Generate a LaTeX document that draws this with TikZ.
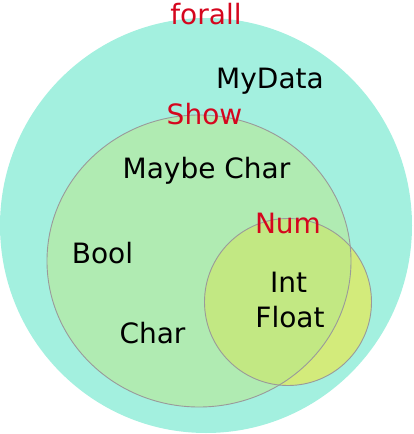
\documentclass[tikz,border=0pt]{standalone}
\usepackage{fontspec}
\setmainfont{DejaVu Sans}
\usepackage{tikz}

\definecolor{forallcol}{HTML}{A3F0DF}
\definecolor{showcol}{HTML}{B0EBB2}
\definecolor{numcol}{HTML}{D3EB7B}
\definecolor{bothcol}{HTML}{C2E883}
\definecolor{classred}{HTML}{D5061E}
\definecolor{rimgray}{HTML}{9A9A9A}

\tikzset{
  typelabel/.style={anchor=base, inner sep=0pt, font=\fontsize{28}{30}\selectfont},
  classlabel/.style={typelabel, text=classred},
  rim/.style={draw=rimgray, line width=0.9pt}
}

\begin{document}
\begin{tikzpicture}[x=1pt,y=-1pt]
\useasboundingbox (0,0) rectangle (413,434);

% forall region
\fill[forallcol] (206,225.5) ellipse [x radius=206, y radius=207.5];

% Show region
\fill[showcol] (199,261) ellipse [x radius=152, y radius=146];

% Num region, lighter where it leaves Show
\fill[numcol] (288,302) circle [radius=83.5];
\begin{scope}
  \clip (199,261) ellipse [x radius=152, y radius=146];
  \fill[bothcol] (288,302) circle [radius=83.5];
\end{scope}

% outlines
\draw[rim] (199,261) ellipse [x radius=152, y radius=146];
\draw[rim] (288,302) circle [radius=83.5];

% class names
\node[classlabel] (forall) at (206,24) {forall};
\node[classlabel] (show) at (204.5,124) {Show};
\node[classlabel] (num) at (288,233) {Num};

% types
\node[typelabel] (mydata) at (270,88) {MyData};
\node[typelabel] (maybechar) at (206.5,178) {Maybe Char};
\node[typelabel] (bool) at (102.5,263) {Bool};
\node[typelabel] (char) at (152.5,343) {Char};
\node[typelabel] (int) at (288.5,292) {Int};
\node[typelabel] (float) at (290,327) {Float};

\end{tikzpicture}
\end{document}
